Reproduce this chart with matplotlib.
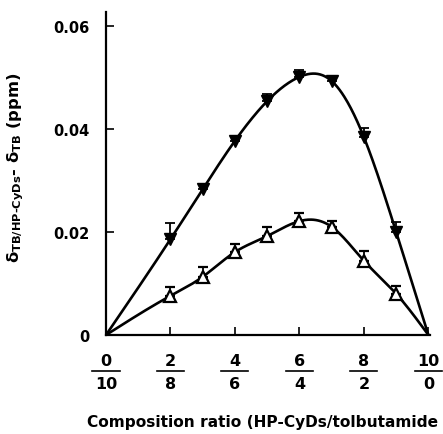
import matplotlib
matplotlib.use('Agg')
import matplotlib.pyplot as plt
import matplotlib.transforms as mtransforms
import numpy as np

plt.rcParams['font.family'] = ['DejaVu Sans']
plt.rcParams['mathtext.fontset'] = 'custom'
plt.rcParams['mathtext.rm'] = 'DejaVu Sans:bold'
plt.rcParams['mathtext.bf'] = 'DejaVu Sans:bold'
plt.rcParams['mathtext.it'] = 'DejaVu Sans:bold'
plt.rcParams['mathtext.default'] = 'bf'

# Data (HP-CyDs fraction in tenths)
ratio = [2, 3, 4, 5, 6, 7, 8, 9]
filled_vals = [0.0186, 0.0283, 0.0377, 0.0454, 0.0501, 0.0493, 0.0384, 0.0200]
filled_err = [0.0031, 0.0010, 0.0009, 0.0014, 0.0014, 0.0006, 0.0018, 0.0019]
open_vals = [0.0076, 0.0113, 0.0161, 0.0192, 0.0221, 0.0210, 0.0144, 0.0080]
open_err = [0.0017, 0.0019, 0.0016, 0.0018, 0.0016, 0.0011, 0.0019, 0.0015]
tick_num = ['0', '2', '4', '6', '8', '10']
tick_den = ['10', '8', '6', '4', '2', '0']
ytick_vals = [0, 0.02, 0.04, 0.06]
ytick_labels = ['0', '0.02', '0.04', '0.06']


def natural_spline(x, y, xs):
    # natural cubic spline through (x, y)
    x = np.asarray(x, float)
    y = np.asarray(y, float)
    n = len(x)
    h = np.diff(x)
    A = np.zeros((n, n))
    b = np.zeros(n)
    A[0, 0] = 1
    A[-1, -1] = 1
    for i in range(1, n - 1):
        A[i, i - 1] = h[i - 1]
        A[i, i] = 2 * (h[i - 1] + h[i])
        A[i, i + 1] = h[i]
        b[i] = 6 * ((y[i + 1] - y[i]) / h[i] - (y[i] - y[i - 1]) / h[i - 1])
    M = np.linalg.solve(A, b)
    idx = np.clip(np.searchsorted(x, xs) - 1, 0, n - 2)
    x0, x1 = x[idx], x[idx + 1]
    hh = x1 - x0
    t0 = x1 - xs
    t1 = xs - x0
    return (M[idx] * t0 ** 3 / (6 * hh) + M[idx + 1] * t1 ** 3 / (6 * hh)
            + (y[idx] / hh - M[idx] * hh / 6) * t0
            + (y[idx + 1] / hh - M[idx + 1] * hh / 6) * t1)


fig = plt.figure(figsize=(4.43, 4.35), dpi=100)
ax = fig.add_axes([106 / 443, 99 / 435, 324 / 443, 323 / 435])
ax.set_xlim(0, 10.05)
ax.set_ylim(0, 0.0627)

# fitted curves (through the data and the end points)
xs = np.linspace(0, 10, 400)
for vals in (filled_vals, open_vals):
    xk = [0] + ratio + [10]
    yk = [0] + vals + [0]
    ax.plot(xs, natural_spline(xk, yk, xs), color='black', lw=1.9, zorder=2)

ax.errorbar(ratio, filled_vals, yerr=[np.zeros(len(ratio)), filled_err],
            fmt='v', color='black', ms=9, elinewidth=1.3, capsize=3.8,
            capthick=1.3, zorder=3)
ax.errorbar(ratio, open_vals, yerr=[np.zeros(len(ratio)), open_err],
            fmt='^', color='black', mfc='white', mec='black', mew=1.6, ms=9,
            elinewidth=1.3, capsize=3.8, capthick=1.3, zorder=3)

for s in ['top', 'right']:
    ax.spines[s].set_visible(False)
for s in ['left', 'bottom']:
    ax.spines[s].set_linewidth(1.6)

ax.set_yticks(ytick_vals)
ax.set_yticklabels(ytick_labels, fontsize=10.5, fontweight='bold')
ax.tick_params(axis='y', direction='in', length=6, width=1.2, pad=12)
ax.set_xticks([0, 2, 4, 6, 8, 10])
ax.set_xticklabels([''] * 6)
ax.tick_params(axis='x', direction='in', length=6, width=1.2)

# fraction tick labels
trans = mtransforms.blended_transform_factory(ax.transData, fig.transFigure)
for xv, num, den in zip([0, 2, 4, 6, 8, 10], tick_num, tick_den):
    ax.text(xv, 1 - 361 / 435, num, transform=trans, ha='center', va='center',
            fontsize=11.5, fontweight='bold')
    ax.text(xv, 1 - 385 / 435, den, transform=trans, ha='center', va='center',
            fontsize=11.5, fontweight='bold')
    ax.plot([xv - 0.42, xv + 0.42], [1 - 372 / 435] * 2, transform=trans,
            color='black', lw=1.2, clip_on=False)

fig.text(87 / 443, 1 - 423 / 435, 'Composition ratio (HP-CyDs/tolbutamide',
         ha='left', va='center', fontsize=11.1, fontweight='bold')
fig.text(16 / 443, 1 - 168 / 435,
         r'$\delta_{TB/HP\text{-}CyDs}$' + '- ' + r'$\delta_{TB}$' + ' (ppm)',
         rotation=90, ha='center', va='center', fontsize=11.8, fontweight='bold')

fig.savefig('out.png', dpi=100, facecolor='white')
